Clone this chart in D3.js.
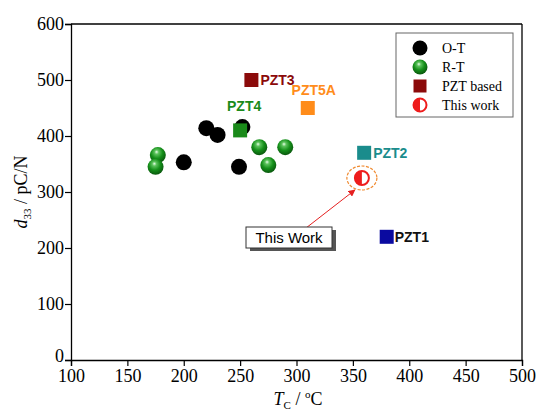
<!DOCTYPE html>
<html>
<head>
<meta charset="utf-8">
<script src="https://cdn.jsdelivr.net/npm/d3@7"></script>
<style>
  html, body { margin: 0; padding: 0; background: #fff; }
  svg { display: block; }
</style>
</head>
<body>
<svg id="chart" width="537" height="410"></svg>
<script>
// Curie temperature (°C) vs d33 (pC/N)
const otTc  = [220, 230, 252, 200, 249];
const otD33 = [414, 402, 416, 353, 345];

const rtTc  = [177, 175, 267, 290, 275];
const rtD33 = [366, 345, 380, 380, 348];

const pztNames  = ["PZT4", "PZT3", "PZT5A", "PZT2", "PZT1"];
const pztTc     = [250, 260, 310, 360, 380];
const pztD33    = [410, 500, 450, 370, 220];
const pztColors = ["#1a8a1a", "#8b0a0a", "#ff8c1a", "#1a8c8c", "#0a0aa0"];

const workTc  = [358];
const workD33 = [325];

const xTicks = [100, 150, 200, 250, 300, 350, 400, 450, 500];
const yTicks = [0, 100, 200, 300, 400, 500, 600];
const legendLabels = ["O-T", "R-T", "PZT based", "This work"];

const svg = d3.select("#chart");
const x = d3.scaleLinear().domain([100, 500]).range([71, 522]);
const y = d3.scaleLinear().domain([0, 600]).range([360, 24]);

const serif = "'Liberation Serif', 'Times New Roman', serif";
const sans  = "'Liberation Sans', Arial, sans-serif";

// gradient for the R-T spheres
const defs = svg.append("defs");
const grad = defs.append("radialGradient").attr("id", "greenBall")
  .attr("cx", "45%").attr("cy", "38%").attr("r", "60%")
  .attr("fx", "42%").attr("fy", "30%");
grad.append("stop").attr("offset", "0%").attr("stop-color", "#e8ffe8");
grad.append("stop").attr("offset", "22%").attr("stop-color", "#5cc25c");
grad.append("stop").attr("offset", "60%").attr("stop-color", "#15901a");
grad.append("stop").attr("offset", "100%").attr("stop-color", "#0a5a0e");

defs.append("marker").attr("id", "arrowHead")
  .attr("viewBox", "0 0 10 10").attr("refX", 9).attr("refY", 5)
  .attr("markerWidth", 7).attr("markerHeight", 7).attr("orient", "auto")
  .append("path").attr("d", "M0,0 L10,5 L0,10 Z").attr("fill", "#e52020");

// frame (top and right)
svg.append("line").attr("x1", x(100)).attr("x2", x(500)).attr("y1", y(600)).attr("y2", y(600))
  .attr("stroke", "#000").attr("stroke-width", 1.3);
svg.append("line").attr("x1", x(500)).attr("x2", x(500)).attr("y1", y(600)).attr("y2", y(0))
  .attr("stroke", "#000").attr("stroke-width", 1.3);

// axes
const xMinor = d3.range(125, 500, 50);
const yMinor = d3.range(50, 600, 100);

const gx = svg.append("g").attr("transform", `translate(0,${y(0)})`);
gx.call(d3.axisBottom(x).tickValues(xMinor).tickSize(4).tickFormat(""));
gx.call(d3.axisBottom(x).tickValues(xTicks).tickSize(6).tickPadding(3).tickFormat(d3.format("d")));
gx.selectAll(".domain").attr("stroke-width", 1.3);
gx.selectAll("text").attr("font-family", serif).attr("font-size", 18).attr("fill", "#000");

const gy = svg.append("g").attr("transform", `translate(${x(100)},0)`);
gy.call(d3.axisLeft(y).tickValues(yMinor).tickSize(3).tickFormat(""));
gy.call(d3.axisLeft(y).tickValues(yTicks).tickSize(6).tickPadding(1).tickFormat(d3.format("d")));
gy.selectAll(".domain").attr("stroke-width", 1.3);
gy.selectAll("text").attr("font-family", serif).attr("font-size", 18).attr("fill", "#000");
// lift the "0" slightly so it clears the x-axis "100"
gy.selectAll(".tick text").filter(d => d === 0).attr("dy", "0.1em");
svg.selectAll(".tick line").attr("stroke-width", 1.2);

// axis titles
const yt = svg.append("text").attr("transform", "translate(27,192) rotate(-90)")
  .attr("text-anchor", "middle").attr("font-family", serif).attr("font-size", 18);
yt.append("tspan").attr("font-style", "italic").text("d");
yt.append("tspan").attr("font-size", 11).attr("dy", 4).text("33");
yt.append("tspan").attr("dy", -4).text(" / pC/N");

const xt = svg.append("text").attr("x", 298).attr("y", 405)
  .attr("text-anchor", "middle").attr("font-family", serif).attr("font-size", 18);
xt.append("tspan").attr("font-style", "italic").text("T");
xt.append("tspan").attr("font-size", 11).attr("dy", 4).text("C");
xt.append("tspan").attr("dy", -4).text(" / ");
xt.append("tspan").attr("font-size", 11).attr("dy", -7).text("o");
xt.append("tspan").attr("dy", 7).text("C");

// O-T points
svg.append("g").selectAll("circle").data(d3.range(otTc.length)).join("circle")
  .attr("cx", i => x(otTc[i])).attr("cy", i => y(otD33[i])).attr("r", 8)
  .attr("fill", "#000");

// R-T points
svg.append("g").selectAll("circle").data(d3.range(rtTc.length)).join("circle")
  .attr("cx", i => x(rtTc[i])).attr("cy", i => y(rtD33[i])).attr("r", 8)
  .attr("fill", "url(#greenBall)");

// PZT commercial ceramics
const sq = 14;
svg.append("g").selectAll("rect").data(d3.range(pztTc.length)).join("rect")
  .attr("x", i => x(pztTc[i]) - sq / 2).attr("y", i => y(pztD33[i]) - sq / 2)
  .attr("width", sq).attr("height", sq).attr("fill", i => pztColors[i]);

// label offsets: PZT4 and PZT5A sit above, the rest to the right
const labelPos = {
  "PZT4":  { dx: 4,   dy: -19, anchor: "middle" },
  "PZT3":  { dx: 9,   dy: 5,   anchor: "start" },
  "PZT5A": { dx: 6,   dy: -13, anchor: "middle" },
  "PZT2":  { dx: 9,   dy: 5,   anchor: "start" },
  "PZT1":  { dx: 8,   dy: 5,   anchor: "start" }
};
svg.append("g").selectAll("text").data(d3.range(pztTc.length)).join("text")
  .attr("x", i => x(pztTc[i]) + labelPos[pztNames[i]].dx)
  .attr("y", i => y(pztD33[i]) + labelPos[pztNames[i]].dy)
  .attr("text-anchor", i => labelPos[pztNames[i]].anchor)
  .attr("font-family", sans).attr("font-weight", "bold").attr("font-size", 14)
  .attr("fill", i => pztNames[i] === "PZT1" ? "#111" : pztColors[i])
  .text(i => pztNames[i]);

// half-filled marker
function halfCircle(g, cx, cy, r) {
  g.append("circle").attr("cx", cx).attr("cy", cy).attr("r", r)
    .attr("fill", "#fff").attr("stroke", "#ee1c1c").attr("stroke-width", 2);
  g.append("path")
    .attr("d", `M${cx},${cy - r} A${r},${r} 0 0,0 ${cx},${cy + r} Z`)
    .attr("fill", "#ee1c1c");
}

const wx = x(workTc[0]), wy = y(workD33[0]);
svg.append("ellipse").attr("cx", wx).attr("cy", wy).attr("rx", 15).attr("ry", 12)
  .attr("fill", "none").attr("stroke", "#f08a30").attr("stroke-width", 1.2)
  .attr("stroke-dasharray", "3,1.5");
halfCircle(svg.append("g"), wx, wy, 7);

// callout box with arrow
svg.append("line").attr("x1", 306).attr("y1", 228).attr("x2", wx - 7).attr("y2", wy + 12)
  .attr("stroke", "#e52020").attr("stroke-width", 1).attr("marker-end", "url(#arrowHead)");
svg.append("rect").attr("x", 250).attr("y", 230).attr("width", 86).attr("height", 21)
  .attr("fill", "#555");
svg.append("rect").attr("x", 246).attr("y", 227).attr("width", 86).attr("height", 21)
  .attr("fill", "#fff").attr("stroke", "#333").attr("stroke-width", 1);
svg.append("text").attr("x", 289).attr("y", 243).attr("text-anchor", "middle")
  .attr("font-family", sans).attr("font-size", 15).attr("fill", "#000").text("This Work");

// legend
const lg = svg.append("g");
lg.append("rect").attr("x", 396).attr("y", 33).attr("width", 117).attr("height", 84)
  .attr("fill", "#fff").attr("stroke", "#666").attr("stroke-width", 1);
const ly = [48, 67, 86, 105];
const lx = 420;
lg.append("circle").attr("cx", lx).attr("cy", ly[0]).attr("r", 7.5).attr("fill", "#000");
lg.append("circle").attr("cx", lx).attr("cy", ly[1]).attr("r", 7.5).attr("fill", "url(#greenBall)");
lg.append("rect").attr("x", lx - 6.5).attr("y", ly[2] - 6.5).attr("width", 13).attr("height", 13)
  .attr("fill", "#8b0a0a");
halfCircle(lg, lx, ly[3], 6.5);
lg.selectAll("text").data(legendLabels).join("text")
  .attr("x", 442).attr("y", (d, i) => ly[i] + 5)
  .attr("font-family", serif).attr("font-size", 14).attr("fill", "#000")
  .text(d => d);
</script>
</body>
</html>
